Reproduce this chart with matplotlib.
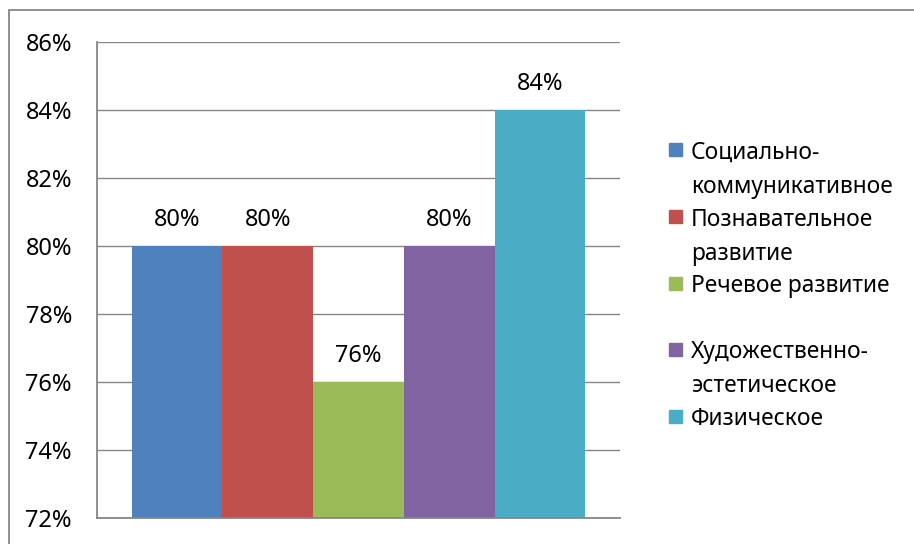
import matplotlib
matplotlib.use("Agg")
import matplotlib.pyplot as plt
from matplotlib.patches import Rectangle

# data
series = ["Социально-\nкоммуникативное", "Познавательное\nразвитие", "Речевое развитие",
          "Художественно-\nэстетическое", "Физическое"]
values = [80, 80, 76, 80, 84]
colors = ["#4F81BD", "#C0504D", "#9BBB59", "#8064A2", "#4BACC6"]
yticks = [72, 74, 76, 78, 80, 82, 84, 86]

W, H = 914, 544
plt.rcParams['font.family'] = ['Noto Sans', 'DejaVu Sans']
fs = 17
grey = "#868686"

fig = plt.figure(figsize=(W / 100, H / 100), dpi=100)

def fx(px):
    return px / W

def fy(py):
    return 1 - py / H

# plot area in pixels: left 97, right 620, top 42, bottom 518
ax = fig.add_axes([fx(97), fy(518), fx(620) - fx(97), fy(42) - fy(518)])

n = len(values)
group = 0.868
w = group / n
for i, (v, c) in enumerate(zip(values, colors)):
    x = -group / 2 + w * (i + 0.5)
    ax.bar(x, v - yticks[0], width=w, bottom=yticks[0], color=c, zorder=3)
    ax.annotate(f"{v}%", (x, v), xytext=(0, 19), textcoords="offset points",
                ha="center", va="center", fontsize=fs, color="black", zorder=4)

ax.set_xlim(-0.5, 0.5)
ax.set_ylim(yticks[0], yticks[-1])
ax.set_xticks([])
ax.set_yticks(yticks)
ax.set_yticklabels([f"{t}%" for t in yticks], fontsize=fs)
ax.tick_params(axis="y", length=0, pad=18)
ax.grid(axis="y", color=grey, linewidth=1.0, zorder=0)
for s in ["top", "right"]:
    ax.spines[s].set_visible(False)
for s in ["left", "bottom"]:
    ax.spines[s].set_color(grey)
    ax.spines[s].set_linewidth(1.3)
    ax.spines[s].set_zorder(5)

# legend drawn by hand so the marker sits at the first line, as in Excel
for i, (name, c) in enumerate(zip(series, colors)):
    cy = 150 + i * 66.5
    fig.patches.append(Rectangle((fx(669), fy(cy + 6.5)), fx(13), 13 / H,
                                 transform=fig.transFigure, color=c))
    for j, line in enumerate(name.split("\n")):
        fig.text(fx(691), fy(cy + 9 + j * 34), line, fontsize=16.4,
                 ha="left", va="baseline")

# chart border
fig.patches.append(Rectangle((fx(9), -0.1), 1.2, fy(10) + 0.1, transform=fig.transFigure,
                             fill=False, edgecolor=grey, linewidth=1.3))

fig.savefig("out.png", dpi=100)
